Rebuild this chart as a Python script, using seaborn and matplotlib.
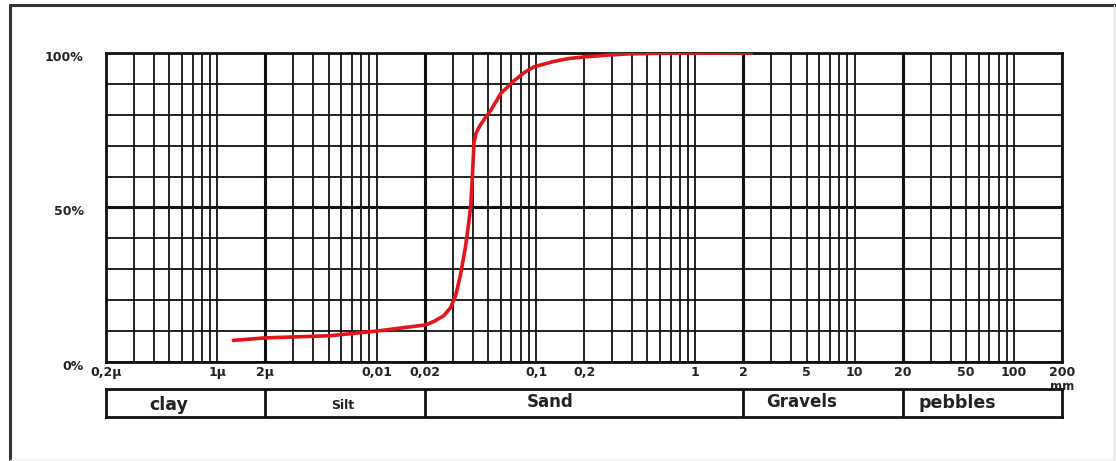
import numpy as np
import pandas as pd
import seaborn as sns
import matplotlib.pyplot as plt
from matplotlib.ticker import FixedLocator, LogLocator, NullFormatter
from matplotlib.lines import Line2D
import matplotlib.transforms as mtransforms

sns.set_style("white")
plt.rcParams['font.family'] = ['DejaVu Sans']

# grain size curve, diameter in mm, passing in %
diameter = [0.00126, 0.002, 0.0051, 0.01, 0.0203, 0.023, 0.0264, 0.029, 0.0313,
            0.0335, 0.036, 0.0378, 0.039, 0.0402, 0.0408, 0.042, 0.0445, 0.048,
            0.0521, 0.0603, 0.0728, 0.085, 0.097, 0.13, 0.16, 0.2, 0.28, 0.38,
            0.6, 2.25]
passing = [7, 7.8, 8.5, 10, 12, 13.2, 15, 17.5, 21.5, 28, 37, 45, 51, 64, 71,
           74, 76.5, 79, 81.5, 87, 91, 93.8, 95.5, 97.3, 98.2, 98.7, 99.3, 99.7,
           99.9, 100]

tick_values = [0.0002, 0.001, 0.002, 0.01, 0.02, 0.1, 0.2, 1, 2, 5, 10, 20, 50, 100, 200]
tick_labels = ["0,2µ", "1µ", "2µ", "0,01", "0,02", "0,1", "0,2", "1", "2", "5", "10",
               "20", "50", "100", "200"]
y_ticks = [0, 50, 100]
y_labels = ["0%", "50%", "100%"]

classes = ["clay", "Silt", "Sand", "Gravels", "pebbles"]
class_bounds = [0.002, 0.02, 2, 20]

df = pd.DataFrame({"d": diameter, "p": passing})

fig = plt.figure(figsize=(11.16, 4.61), dpi=100)
ax = fig.add_axes([0.0950, 0.2148, 0.8566, 0.6703])
ax.set_xscale("log")
ax.set_xlim(0.0002, 200)
ax.set_ylim(0, 100)

ax.set_xticks(tick_values)
ax.set_xticklabels(tick_labels)
ax.xaxis.set_minor_locator(LogLocator(base=10, subs=range(2, 10), numticks=20))
ax.xaxis.set_minor_formatter(NullFormatter())
ax.set_yticks(y_ticks)
ax.set_yticklabels(y_labels)
ax.yaxis.set_minor_locator(FixedLocator(range(10, 100, 10)))

ax.grid(which="both", axis="both", color="#111111", lw=1.3)
ax.axhline(50, color="#111111", lw=2.2, zorder=1)
for b in class_bounds:
    ax.axvline(b, color="#111111", lw=2.2, zorder=1)

ax.tick_params(which="both", length=0)
ax.tick_params(axis="x", pad=3, labelsize=9, labelcolor="#222222")
ax.tick_params(axis="y", pad=16, labelsize=9, labelcolor="#222222")
shift = mtransforms.ScaledTranslation(0, -3 / 100, fig.dpi_scale_trans)
for lab in ax.get_xticklabels():
    lab.set_fontweight("bold")
for lab in ax.get_yticklabels():
    lab.set_fontweight("bold")
    lab.set_transform(lab.get_transform() + shift)
for s in ax.spines.values():
    s.set_color("#111111")
    s.set_linewidth(2)

sns.lineplot(data=df, x="d", y="p", ax=ax, color="#e3141b", lw=2.6, zorder=5)
ax.set_xlabel("")
ax.set_ylabel("")

tr = mtransforms.blended_transform_factory(ax.transData, ax.transAxes)
ax.text(200, -0.079, "mm", transform=tr, ha="center", va="center",
        fontsize=8.5, fontweight="bold", color="#222222")

# classification band
bx = fig.add_axes([0.0950, 0.0955, 0.8566, 0.0607])
bx.set_xscale("log")
bx.set_xlim(0.0002, 200)
bx.set_ylim(0, 1)
bx.set_xticks([])
bx.set_yticks([])
bx.minorticks_off()
for s in bx.spines.values():
    s.set_color("#111111")
    s.set_linewidth(2)
for b in class_bounds:
    bx.axvline(b, color="#111111", lw=2)
label_x = [0.000492, 0.00611, 0.1225, 4.64, 43.9]
label_y = [0.42, 0.42, 0.55, 0.55, 0.5]
label_size = [12.5, 9, 12, 12, 12.5]
for name, lx, ly, fs in zip(classes, label_x, label_y, label_size):
    bx.text(lx, ly, name, ha="center", va="center", fontsize=fs,
            fontweight="bold", color="#222222")

# outer frame
fig.add_artist(Line2D([10 / 1116, 1], [1 - 5 / 461, 1 - 5 / 461], color="#333333", lw=2.2))
fig.add_artist(Line2D([10 / 1116, 10 / 1116], [0, 1 - 5 / 461], color="#333333", lw=2.2))
fig.add_artist(Line2D([1114 / 1116, 1114 / 1116], [0, 1 - 5 / 461], color="#dddddd", lw=1))
fig.add_artist(Line2D([10 / 1116, 1], [1 / 461, 1 / 461], color="#eeeeee", lw=1))

fig.savefig("out.png", dpi=100)
